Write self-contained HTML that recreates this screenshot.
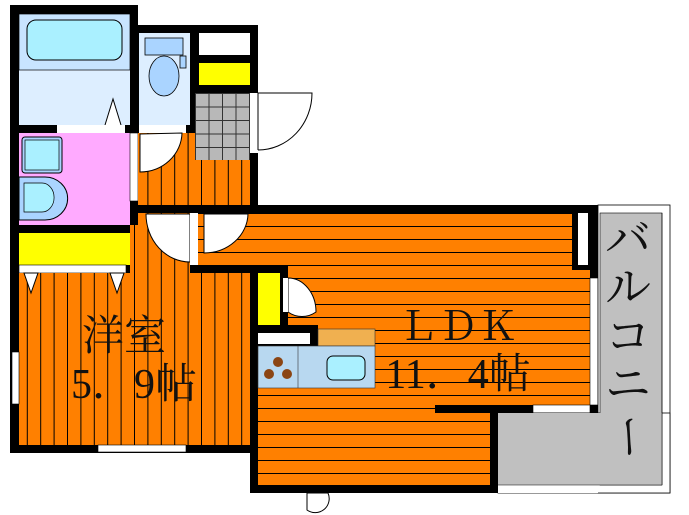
<!DOCTYPE html><html><head><meta charset="utf-8"><style>body{margin:0;background:#fff}svg{display:block}</style></head><body>
<svg width="689" height="515" viewBox="0 0 689 515" xmlns="http://www.w3.org/2000/svg">
<defs>
<pattern id="v" width="13.4" height="10" patternUnits="userSpaceOnUse"><rect width="13.4" height="10" fill="#ff8000"/><line x1="0.5" y1="0" x2="0.5" y2="10" stroke="#000" stroke-width="1"/></pattern>
<pattern id="h" width="10" height="13" patternUnits="userSpaceOnUse" y="5"><rect width="10" height="13" fill="#ff8000"/><line x1="0" y1="0.5" x2="10" y2="0.5" stroke="#000" stroke-width="1"/></pattern>
<pattern id="g" width="13.5" height="13.5" patternUnits="userSpaceOnUse" x="195" y="93"><rect width="13.5" height="13.5" fill="#b8b8b8"/><path d="M0 0.5H13.5M0.5 0V13.5" stroke="#333"/></pattern>
</defs>
<rect x="10" y="5" width="128" height="448" fill="#000"/>
<rect x="138" y="25" width="120" height="188" fill="#000"/>
<rect x="138" y="205" width="460" height="208" fill="#000"/>
<rect x="250" y="205" width="248" height="288" fill="#000"/>
<rect x="10" y="265" width="248" height="188" fill="#000"/>
<!-- bath -->
<rect x="19" y="14" width="111" height="111" fill="#ddeeff"/>
<rect x="19" y="14" width="111" height="56" fill="#c8e4ff" stroke="#000" stroke-width="0.7"/>
<rect x="27" y="20" width="95" height="40" rx="9" fill="#aaf0ff" stroke="#000"/>
<path d="M105 125 L113 99 L121 125" fill="#fff" stroke="#000"/>
<rect x="57" y="125" width="68" height="8" fill="#fff"/>
<!-- toilet -->
<rect x="139" y="33" width="51" height="92" fill="#ddeeff"/>
<rect x="145" y="38" width="38" height="17" fill="#aad4ff" stroke="#000" stroke-width="0.8"/>
<rect x="180" y="56" width="6" height="12" fill="#aad4ff" stroke="#000" stroke-width="0.8"/>
<ellipse cx="164" cy="76" rx="15" ry="20" fill="#aad4ff" stroke="#000" stroke-width="0.8"/>
<rect x="139" y="125" width="47" height="8" fill="#fff"/>
<rect x="199" y="33" width="51" height="22" fill="#fff"/>
<rect x="199" y="63" width="51" height="22" fill="#ffff00"/>
<rect x="195" y="93" width="55" height="67" fill="url(#g)"/>
<rect x="250" y="93" width="62" height="60" fill="#fff"/>
<path d="M258 150 V93 H312 A54 57 0 0 1 258 150" fill="#fff" stroke="#000"/>
<!-- wash -->
<rect x="19" y="133" width="111" height="92" fill="#ffaaff"/>
<rect x="22" y="137" width="40" height="36" rx="3" fill="#aad4ff" stroke="#000"/>
<rect x="25" y="140" width="34" height="30" fill="#aaf0ff" stroke="#000" stroke-width="0.7"/>
<path d="M19 177 H45 A20 19 0 0 1 45 220 H19Z" fill="#aad4ff" stroke="#000"/>
<path d="M24 183 H42 A10 12 0 0 1 42 212 H24Z" fill="#aaf0ff" stroke="#000" stroke-width="0.7"/>
<rect x="130" y="133" width="8" height="68" fill="#fff" stroke="#000" stroke-width="0.6"/>
<!-- corridor -->
<rect x="138" y="133" width="112" height="72" fill="url(#v)"/>
<rect x="195" y="133" width="55" height="27" fill="url(#g)"/>
<path d="M140 134 V172 A42 40 0 0 0 182 133Z" fill="#fff" stroke="#000"/>
<rect x="19" y="233" width="111" height="32" fill="#ffff00"/>
<rect x="19" y="265" width="107" height="8" fill="#fff" stroke="#000" stroke-width="0.6"/>
<!-- bedroom -->
<rect x="19" y="273" width="231" height="172" fill="url(#v)"/>
<rect x="138" y="213" width="52" height="60" fill="url(#v)"/>
<rect x="190" y="265" width="60" height="8" fill="url(#v)"/>
<rect x="130" y="225" width="8" height="48" fill="url(#v)"/>
<path d="M24 273 L31 293 L38 273Z M110 273 L117 293 L124 273Z" fill="#fff" stroke="#000"/>
<path d="M146 214 H190 V262 A44 48 0 0 1 146 214Z" fill="#fff" stroke="#000"/>
<rect x="12" y="352" width="7" height="52" fill="#fff" stroke="#000" stroke-width="0.6"/>
<rect x="98" y="445" width="88" height="7" fill="#fff" stroke="#000" stroke-width="0.6"/>
<!-- LDK floor -->
<rect x="198" y="213" width="374" height="52" fill="url(#h)"/>
<rect x="258" y="265" width="332" height="140" fill="url(#h)"/>
<rect x="572" y="265" width="18" height="140" fill="url(#h)"/>
<rect x="258" y="405" width="177" height="8" fill="url(#h)"/>
<rect x="258" y="413" width="232" height="72" fill="url(#h)"/>
<rect x="190" y="213" width="8" height="52" fill="#fff"/>
<path d="M204 214 H248 A44 40 0 0 1 204 253Z" fill="#fff" stroke="#000"/>
<rect x="572" y="205" width="26" height="65" fill="#000"/>
<rect x="578" y="213" width="10" height="52" fill="#fff"/>
<rect x="590" y="278" width="8" height="127" fill="#fff" stroke="#000" stroke-width="0.6"/>
<rect x="533" y="405" width="57" height="8" fill="#fff" stroke="#000" stroke-width="0.6"/>
<!-- walls over -->
<rect x="190" y="265" width="98" height="8" fill="#000"/>
<rect x="250" y="265" width="8" height="228" fill="#000"/>
<rect x="250" y="273" width="38" height="60" fill="#000"/>
<rect x="250" y="325" width="68" height="27" fill="#000"/>
<!-- kitchen -->
<rect x="258" y="273" width="22" height="52" fill="#ffff00"/>
<path d="M288 278 V312 A28 34 0 0 0 316 312 A28 34 0 0 0 288 278Z" fill="#fff" stroke="#000"/>
<rect x="283" y="278" width="5" height="34" fill="#fff"/>
<rect x="258" y="333" width="52" height="11" fill="#fff"/>
<rect x="318" y="329" width="57" height="17" fill="#f0b050" stroke="#333" stroke-width="0.6"/>
<rect x="258" y="346" width="117" height="42" fill="#b8d8f0" stroke="#333" stroke-width="0.6"/>
<line x1="298" y1="346" x2="298" y2="388" stroke="#333" stroke-width="0.6"/>
<rect x="327" y="356" width="38" height="24" rx="6" fill="#aaf0ff" stroke="#000"/>
<circle cx="278" cy="362" r="5" fill="#8b4513"/><circle cx="269" cy="374" r="5" fill="#8b4513"/><circle cx="287" cy="374" r="5" fill="#8b4513"/>
<path d="M307 493 V510 A14 14 0 0 0 328 493Z" fill="#fff" stroke="#000"/>
<!-- balcony -->
<rect x="598" y="205" width="72" height="288" fill="#fff" stroke="#000" stroke-width="0.8"/>
<rect x="498" y="413" width="172" height="80" fill="#fff" stroke="#000" stroke-width="0.8"/>
<rect x="498" y="413" width="100" height="80" fill="#fff"/>
<rect x="600" y="213" width="62" height="272" fill="#c0c0c0" stroke="#000" stroke-width="0.6"/>
<rect x="498" y="413" width="164" height="72" fill="#c0c0c0"/>
<line x1="662" y1="213" x2="662" y2="485" stroke="#000" stroke-width="0.6"/><line x1="498" y1="485" x2="662" y2="485" stroke="#000" stroke-width="0.6"/>
<rect x="490" y="413" width="8" height="80" fill="#000"/>
<g font-family="Liberation Serif, Noto Serif CJK SC, serif" fill="#111">
<text x="628" y="255" font-size="46" text-anchor="middle">バ</text>
<text x="628" y="303" font-size="46" text-anchor="middle">ル</text>
<text x="628" y="352" font-size="46" text-anchor="middle">コ</text>
<text x="628" y="400" font-size="46" text-anchor="middle">ニ</text>
<text x="628" y="452" font-size="46" text-anchor="middle" transform="rotate(90 628 437)">ー</text>
<text x="458" y="340" font-size="40" text-anchor="middle">ＬＤＫ</text>
<text x="458" y="388" font-size="42" text-anchor="middle">11．4帖</text>
<text x="124" y="350" font-size="42" text-anchor="middle">洋室</text>
<text x="134" y="398" font-size="42" text-anchor="middle">5．9帖</text>
</g>
</svg></body></html>
